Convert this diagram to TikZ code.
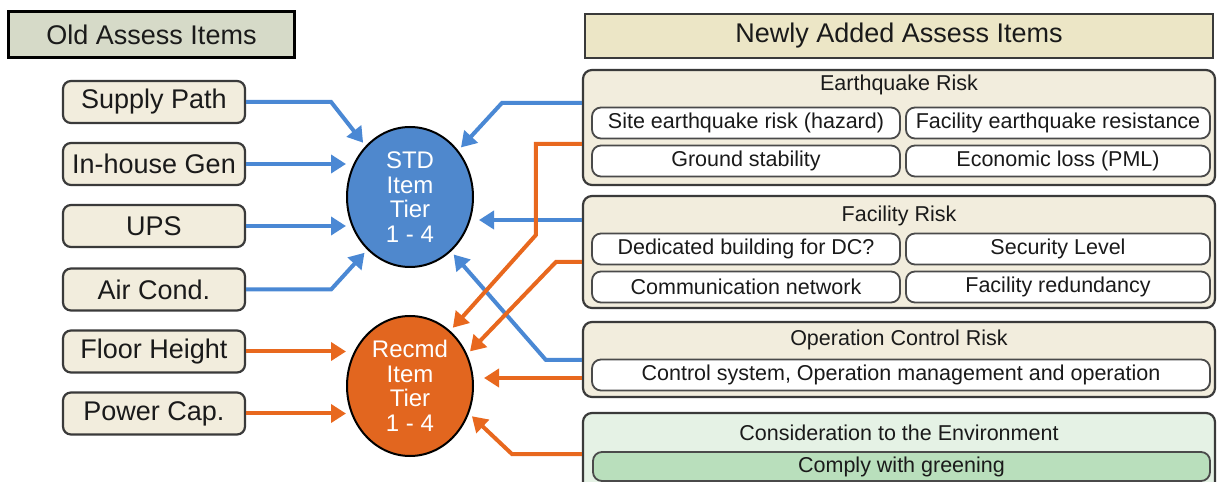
\documentclass[tikz,border=0pt]{standalone}
\usepackage{fontspec}
\setmainfont{Liberation Sans}
\usetikzlibrary{shapes.geometric,arrows.meta,calc}

\definecolor{txt}{HTML}{1A1A1A}
\definecolor{edge}{HTML}{3A3A3A}
\definecolor{subedge}{HTML}{4A4A4A}
\definecolor{oldfill}{HTML}{D6DAC8}
\definecolor{newfill}{HTML}{ECE6C6}
\definecolor{itemfill}{HTML}{F2EDDD}
\definecolor{envfill}{HTML}{E5F2E5}
\definecolor{greenfill}{HTML}{B9DFBC}
\definecolor{stdblue}{HTML}{4F88CD}
\definecolor{recorange}{HTML}{E2661F}
\definecolor{arrblue}{HTML}{4A88D4}
\definecolor{arrorange}{HTML}{E8681E}

\begin{document}
\begin{tikzpicture}[x=1bp,y=-1bp,
  big/.style={font=\fontsize{27bp}{30bp}\selectfont, text=txt},
  small/.style={font=\fontsize{21.5bp}{24bp}\selectfont, text=txt},
  oldhdr/.style={big, draw=black, line width=3bp, fill=oldfill, inner sep=0,
    minimum width=285bp, minimum height=46bp},
  newhdr/.style={big, draw=edge, line width=2bp, fill=newfill, inner sep=0,
    minimum width=628bp, minimum height=44bp},
  item/.style={big, draw=edge, line width=2.2bp, rounded corners=8bp, fill=itemfill,
    inner sep=0, minimum width=182bp, minimum height=42bp},
  grp/.style={draw=edge, line width=2.2bp, rounded corners=9bp, fill=itemfill,
    inner sep=0, minimum width=632bp},
  grptitle/.style={small, inner sep=0},
  sub/.style={small, draw=subedge, line width=1.8bp, rounded corners=9bp, fill=white,
    inner sep=0, minimum height=31bp},
  tier/.style={ellipse, draw=black, line width=2bp, inner sep=0, text=white,
    minimum width=126bp, minimum height=140bp, align=center,
    font=\fontsize{24bp}{24.5bp}\selectfont},
  conn/.style={line width=4bp, -{Triangle[length=15bp,width=18bp]}},
  barr/.style={conn, draw=arrblue},
  oarr/.style={conn, draw=arrorange},
]
\useasboundingbox (0,0) rectangle (1218,482);
\clip (0,0) rectangle (1218,482);

% headers
\node[oldhdr] (oldh) at (151.5,35) {Old Assess Items};
\node[newhdr] (newh) at (899,36) {Newly Added Assess Items};

% old assessment items
\node[item] (sp)  at (154,102)   {Supply Path};
\node[item] (ih)  at (154,164)   {In-house Gen};
\node[item] (ups) at (154,226)   {UPS};
\node[item] (ac)  at (154,289.5) {Air Cond.};
\node[item] (fh)  at (154,351.5) {Floor Height};
\node[item] (pc)  at (154,413.5) {Power Cap.};

% tiers
\node[tier, fill=stdblue]   (std) at (410,197) {STD\\Item\\Tier\\1 - 4};
\node[tier, fill=recorange] (rec) at (410,386) {Recmd\\Item\\Tier\\1 - 4};

% earthquake risk
\node[grp, minimum height=115bp] (eq) at (899,127.5) {};
\node[grptitle] (eqt) at (899,85) {Earthquake Risk};
\node[sub, minimum width=308bp] (eq1) at (746,123)  {Site earthquake risk (hazard)};
\node[sub, minimum width=304bp] (eq2) at (1058,123) {Facility earthquake resistance};
\node[sub, minimum width=308bp] (eq3) at (746,161)  {Ground stability};
\node[sub, minimum width=304bp] (eq4) at (1058,161) {Economic loss (PML)};

% facility risk
\node[grp, minimum height=112bp] (fr) at (899,252) {};
\node[grptitle] (frt) at (899,216) {Facility Risk};
\node[sub, minimum width=308bp] (fr1) at (746,249)  {Dedicated building for DC?};
\node[sub, minimum width=304bp] (fr2) at (1058,249) {Security Level};
\node[sub, minimum width=308bp] (fr3) at (746,287)  {Communication network};
\node[sub, minimum width=304bp] (fr4) at (1058,287) {Facility redundancy};

% operation control risk
\node[grp, minimum height=75bp] (op) at (899,359.5) {};
\node[grptitle] (opt) at (899,340) {Operation Control Risk};
\node[sub, minimum width=618bp] (op1) at (901,375) {Control system, Operation management and operation};

% environment
\node[grp, fill=envfill, minimum height=84bp] (env) at (899,455) {};
\node[grptitle] (envt) at (899,433) {Consideration to the Environment};
\node[sub, fill=greenfill, minimum width=617bp, minimum height=29bp] (env1) at (901.5,466.5) {Comply with greening};

% connectors into the standard tier
\draw[barr, shorten >=4bp] (sp.east) -- ++(85,0) -- (std.131);
\draw[barr] (ih.east) -- (ih.east -| std.west);
\draw[barr] (ups.east) -- (ups.east -| std.west);
\draw[barr, shorten >=4bp] (ac.east) -- ++(85,0) -- (std.231.7);
\draw[barr, shorten >=4bp] (eq.west |- 0,103) -- ++(-80,0) -- (std.44.5);
\draw[barr] (fr.west |- 0,220) -- ($(std.east |- 0,220)+(5,0)$);
\draw[barr, shorten >=4bp] (op.west |- 0,360) -- ++(-36,0) -- (std.307.6);

% connectors into the recommended tier
\draw[oarr] (fh.east) -- (fh.east -| rec.west);
\draw[oarr] (pc.east) -- (pc.east -| rec.west);
\draw[oarr, shorten >=4bp] (eq.west |- 0,144) -- ++(-46,0) -- ++(0,91) -- (rec.54.5);
\draw[oarr, shorten >=4bp] (fr.west |- 0,262) -- ++(-26,0) -- (rec.29.8);
\draw[oarr] (op.west |- 0,378) -- ($(rec.east |- 0,378)+(10,0)$);
\draw[oarr, shorten >=4bp] (env.west |- 0,454) -- ++(-70,0) -- (rec.335.4);
\end{tikzpicture}
\end{document}
